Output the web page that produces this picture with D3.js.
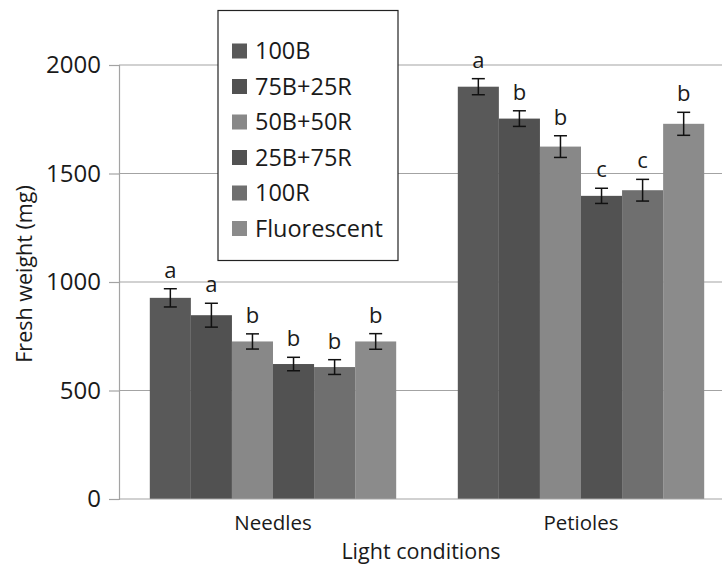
<!DOCTYPE html>
<html><head><meta charset="utf-8">
<script src="https://cdn.jsdelivr.net/npm/d3@7"></script>
<style>body{margin:0;background:#fff}svg{display:block}text{font-family:"Open Sans",sans-serif;fill:#1a1a1a}</style>
</head><body><svg id="c" width="722" height="566"></svg>
<script>
const categories = ["Needles", "Petioles"];
const series = ["100B", "75B+25R", "50B+50R", "25B+75R", "100R", "Fluorescent"];
const needlesValues = [927, 847, 726, 622, 608, 726];
const needlesErrors = [42, 55, 35, 31, 34, 36];
const needlesLetters = ["a", "a", "b", "b", "b", "b"];
const petiolesValues = [1900, 1753, 1624, 1397, 1423, 1729];
const petiolesErrors = [37, 36, 50, 35, 50, 53];
const petiolesLetters = ["a", "b", "b", "c", "c", "b"];
const yTicks = [0, 500, 1000, 1500, 2000];
const colors = ["#595959", "#515151", "#888888", "#525252", "#6f6f6f", "#8b8b8b"];

const rows = [
  {cat: "Needles", values: needlesValues, errors: needlesErrors, letters: needlesLetters},
  {cat: "Petioles", values: petiolesValues, errors: petiolesErrors, letters: petiolesLetters}
];

const svg = d3.select("#c");
const x0 = d3.scaleBand().domain(categories).range([119, 735]).paddingInner(0.2).paddingOuter(0.1);
const x1 = d3.scaleBand().domain(series).range([0, x0.bandwidth()]);
const y = d3.scaleLinear().domain([0, 2000]).range([499, 65]);
const color = d3.scaleOrdinal().domain(series).range(colors);

// gridlines
svg.append("g").selectAll("line").data(yTicks.filter(t => t > 0)).join("line")
  .attr("x1", 119).attr("x2", 722).attr("y1", d => y(d)).attr("y2", d => y(d))
  .attr("stroke", "#a3a3a3").attr("stroke-width", 1.2);

// y axis
const yAxis = svg.append("g").attr("transform", "translate(119,0)")
  .call(d3.axisLeft(y).tickValues(yTicks).tickSize(10).tickPadding(8).tickFormat(d3.format("d")));
yAxis.select(".domain").attr("stroke", "#a3a3a3").attr("stroke-width", 1.2);
yAxis.selectAll(".tick line").attr("stroke", "#a3a3a3").attr("stroke-width", 1.2);
yAxis.selectAll(".tick text").attr("font-size", 24).attr("font-family", "Open Sans").attr("fill", "#1a1a1a");

// bars
const groups = svg.append("g").selectAll("g").data(rows).join("g")
  .attr("transform", d => `translate(${x0(d.cat)},0)`);
const items = groups.selectAll("g").data(d => series.map((s, i) => ({s, v: d.values[i], e: d.errors[i], l: d.letters[i]}))).join("g");
items.append("rect")
  .attr("x", d => x1(d.s)).attr("width", x1.bandwidth())
  .attr("y", d => y(d.v)).attr("height", d => y(0) - y(d.v))
  .attr("fill", d => color(d.s));
// error bars
const cx = d => x1(d.s) + x1.bandwidth()/2;
items.append("line").attr("x1", cx).attr("x2", cx)
  .attr("y1", d => y(d.v + d.e)).attr("y2", d => y(d.v - d.e)).attr("stroke", "#111").attr("stroke-width", 1.5);
items.append("line").attr("x1", d => cx(d) - 6.5).attr("x2", d => cx(d) + 6.5)
  .attr("y1", d => y(d.v + d.e)).attr("y2", d => y(d.v + d.e)).attr("stroke", "#111").attr("stroke-width", 1.5);
items.append("line").attr("x1", d => cx(d) - 6.5).attr("x2", d => cx(d) + 6.5)
  .attr("y1", d => y(d.v - d.e)).attr("y2", d => y(d.v - d.e)).attr("stroke", "#111").attr("stroke-width", 1.5);
items.append("text").attr("x", cx).attr("y", d => y(d.v + d.e) - 11)
  .attr("text-anchor", "middle").attr("font-size", 22).text(d => d.l);

// x axis line
svg.append("line").attr("x1", 119).attr("x2", 722).attr("y1", y(0)).attr("y2", y(0))
  .attr("stroke", "#a3a3a3").attr("stroke-width", 1.2);
svg.append("g").selectAll("text").data(categories).join("text")
  .attr("x", d => x0(d) + x0.bandwidth()/2).attr("y", 530).attr("text-anchor", "middle")
  .attr("font-size", 20.5).text(d => d);

// axis titles
svg.append("text").attr("x", 421).attr("y", 559).attr("text-anchor", "middle").attr("font-size", 21.5).text("Light conditions");
svg.append("text").attr("transform", "translate(32,274) rotate(-90)").attr("text-anchor", "middle").attr("font-size", 21.5).text("Fresh weight (mg)");

// legend
const lg = svg.append("g");
lg.append("rect").attr("x", 218).attr("y", 10.5).attr("width", 180).attr("height", 250)
  .attr("fill", "#fff").attr("stroke", "#222").attr("stroke-width", 1.2);
const li = lg.selectAll("g").data(series).join("g").attr("transform", (d, i) => `translate(232,${51 + i*35.5})`);
li.append("rect").attr("x", 0).attr("y", -7.5).attr("width", 15).attr("height", 15).attr("fill", d => color(d));
li.append("text").attr("x", 23).attr("y", 0).attr("dy", "0.36em").attr("font-size", 23.5).text(d => d);
</script></body></html>
